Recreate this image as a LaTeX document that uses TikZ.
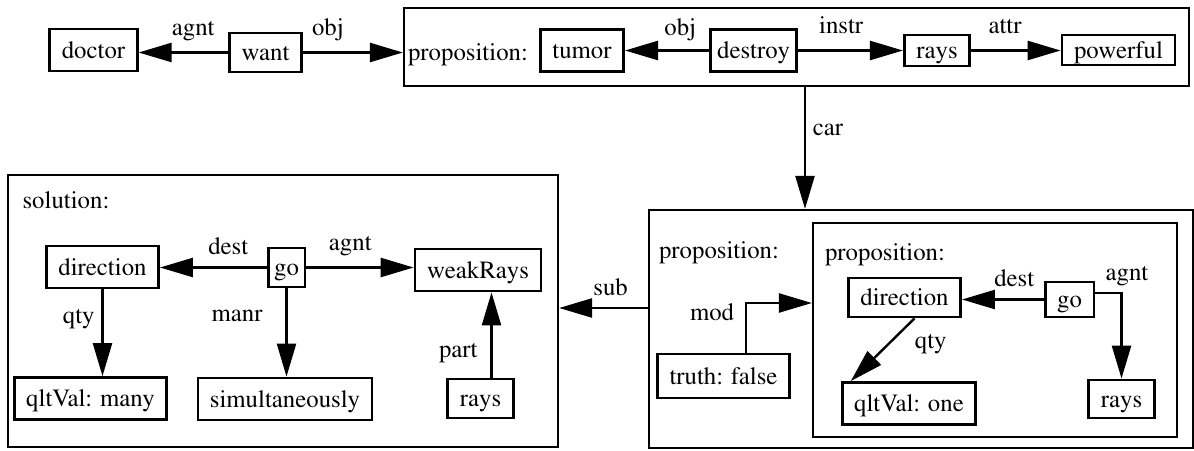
\documentclass[tikz,border=0pt]{standalone}
\usepackage[T1]{fontenc}
\usepackage{mathptmx}
\usetikzlibrary{arrows.meta}

\begin{document}
\begin{tikzpicture}[x=0.5pt, y=-0.5pt, font=\rmfamily\fontsize{12.4}{14}\selectfont,
    >={Triangle[length=16.5pt,width=9.5pt]},
    concept/.style={draw, line width=1.4pt, inner xsep=6pt, inner ysep=2pt,
      text height=9.5pt, text depth=1.5pt, minimum height=21pt},
    ctxbox/.style={draw, line width=1.1pt, inner sep=0pt},
    relarrow/.style={->, line width=1.2pt},
    rellabel/.style={text height=8pt, text depth=2.5pt}]
  \useasboundingbox (0,0) rectangle (1194,450);

  % context boxes
  \node[ctxbox, minimum width=392.5pt, minimum height=39pt] (goal) at (796.5,47) {};
  \node[ctxbox, minimum width=275pt, minimum height=136pt] (solution) at (283,311) {};
  \node[ctxbox, minimum width=272pt, minimum height=119pt] (negprop) at (921,329) {};
  \node[ctxbox, minimum width=182pt, minimum height=107pt] (goprop) at (995,330) {};

  \node[anchor=base] (goaltitle) at (468,60) {proposition:};
  \node[anchor=base] (soltitle) at (66,208) {solution:};
  \node[anchor=base] (negtitle) at (719,258) {proposition:};
  \node[anchor=base] (gotitle) at (885,260) {proposition:};

  % top row
  \node[concept] (doctor) at (93.5,50) {doctor};
  \node[concept, minimum height=19.5pt] (want) at (265.5,52.5) {want};
  \node[concept] (tumor) at (582,50.5) {tumor};
  \node[concept, inner xsep=3.5pt] (destroy) at (753.5,50.5) {destroy};
  \node[concept, minimum height=15.5pt] (rays) at (937,50.5) {rays};
  \node[concept, minimum height=15pt] (powerful) at (1118.5,50) {powerful};

  \draw[relarrow] (want.west) -- node[rellabel, above=2pt, pos=0.39] {agnt} (want.west -| doctor.east);
  \draw[relarrow] (want.east) -- node[rellabel, above=2pt, pos=0.25] {obj} (want.east -| goal.west);
  \draw[relarrow] (destroy.west) -- node[rellabel, above=1pt, pos=0.34] {obj} (tumor.east);
  \draw[relarrow] (destroy.east) -- node[rellabel, above=2pt, pos=0.41] {instr} (destroy.east -| rays.west);
  \draw[relarrow] (rays.east) -- node[rellabel, above=2pt, pos=0.38] {attr} (rays.east -| powerful.west);

  \coordinate (carfoot) at ([xshift=4.25pt]goal.south);
  \draw[relarrow] (carfoot) -- node[rellabel, right, pos=0.35] {car} (carfoot |- negprop.north);

  % solution
  \node[concept] (direction) at (102.5,267) {direction};
  \node[concept, inner xsep=3pt, minimum height=19.5pt] (go) at (286.5,267.5) {go};
  \node[concept] (weakrays) at (478,270) {weakRays};
  \node[concept] (manyval) at (90.5,398.5) {qltVal: many};
  \node[concept] (simul) at (285,399) {simultaneously};
  \node[concept, minimum height=19.5pt] (partrays) at (480.5,398.5) {rays};

  \draw[relarrow] (go.west) -- node[rellabel, above, pos=0.36] {dest} (go.west -| direction.east);
  \draw[relarrow] (go.east) -- node[rellabel, above=2pt, pos=0.41] {agnt} (go.east -| weakrays.west);
  \draw[relarrow] (direction.south) -- node[rellabel, left, pos=0.33] {qty} (direction.south |- manyval.north);
  \draw[relarrow] (go.south) -- node[rellabel, left=8pt, pos=0.31] {manr} (go.south |- simul.north);
  \coordinate (partfoot) at ([xshift=5.5pt]partrays.north);
  \draw[relarrow] (partfoot) -- node[rellabel, left=3pt, pos=0.3] {part} (partfoot |- weakrays.south);

  \coordinate (subfoot) at ([yshift=10.5pt]negprop.west);
  \draw[relarrow] (subfoot) -- node[rellabel, above, pos=0.42] {sub} (subfoot -| solution.east);

  % negated proposition
  \node[concept, minimum height=22pt] (truth) at (723.5,376) {truth: false};
  \node[concept, minimum height=19.5pt] (directionb) at (904.5,297.5) {direction};
  \node[concept, minimum height=17.5pt] (gob) at (1069.5,299.5) {go};
  \node[concept, minimum height=19pt] (raysb) at (1121.5,399) {rays};
  \node[concept] (oneval) at (909,403.5) {qltVal: one};

  \draw[relarrow] ([xshift=11.25pt]truth.north) |- node[rellabel, left=2pt, pos=0.38] {mod} ([yshift=13.5pt]goprop.west);
  \draw[relarrow] (gob.west) -- node[rellabel, above, pos=0.36] {dest} (gob.west -| directionb.east);
  \draw[relarrow] ([yshift=3.25pt]gob.east) -| node[rellabel, above, xshift=2.75pt, pos=0.5] {agnt} (raysb.north);
  \draw[relarrow] ([xshift=5pt]directionb.south) -- node[rellabel, right=9pt, pos=0.4] {qty} ([xshift=5pt]oneval.north west);
\end{tikzpicture}
\end{document}
